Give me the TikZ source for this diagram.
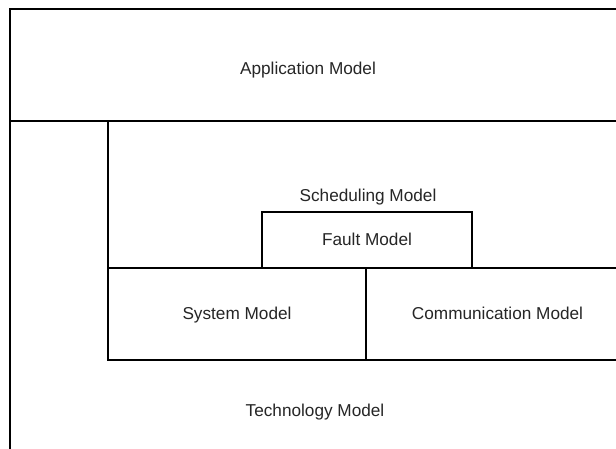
\documentclass[tikz,border=0pt]{standalone}
\usepackage{fontspec}
\setmainfont{Liberation Sans}
\begin{document}
\begin{tikzpicture}[x=1pt,y=-1pt,
  frame/.style={line width=2pt, line cap=rect},
  lbl/.style={anchor=base, inner sep=0pt, font=\fontsize{17.2}{20}\selectfont, text=black!85}]
\useasboundingbox (0,0) rectangle (616,448);
\fill[white] (0,0) rectangle (616,448);
% borders
\coordinate (tl) at (10,9);
\coordinate (tr) at (620,9);
\coordinate (bl) at (10,452);
\coordinate (al) at (10,121);
\coordinate (ar) at (620,121);
\coordinate (sl) at (108,121);
\coordinate (sm) at (108,268);
\coordinate (sr) at (620,268);
\coordinate (sb) at (108,360);
\coordinate (sbr) at (620,360);
\coordinate (ct) at (366,268);
\coordinate (cb) at (366,360);
\coordinate (f1) at (262,268);
\coordinate (f2) at (262,212);
\coordinate (f3) at (472,212);
\coordinate (f4) at (472,268);
\draw[frame] (tr) -- (tl) -- (bl);
\draw[frame] (al) -- (ar);
\draw[frame] (sl) -- (sb);
\draw[frame] (sm) -- (sr);
\draw[frame] (sb) -- (sbr);
\draw[frame] (ct) -- (cb);
\draw[frame] (f1) -- (f2) -- (f3) -- (f4);
% labels
\node[lbl] (app) at (308,74) {Application Model};
\node[lbl] (sched) at (368,201) {Scheduling Model};
\node[lbl] (fault) at (367,245.5) {Fault Model};
\node[lbl] (sys) at (237,319.5) {System Model};
\node[lbl] (comm) at (497.5,319.5) {Communication Model};
\node[lbl] (tech) at (315,416) {Technology Model};
\end{tikzpicture}
\end{document}
